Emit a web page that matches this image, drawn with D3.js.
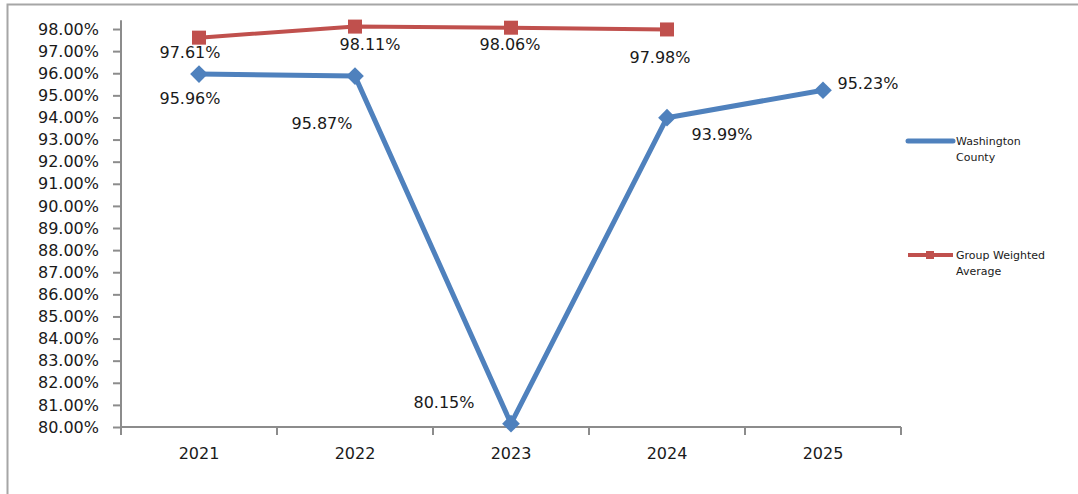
<!DOCTYPE html>
<html>
<head>
<meta charset="utf-8">
<script src="https://cdn.jsdelivr.net/npm/d3@7"></script>
<style>
  html, body { margin: 0; padding: 0; background: #fff; }
  svg { display: block; }
  text { font-family: "DejaVu Sans", sans-serif; fill: #1a1a1a; }
</style>
</head>
<body>
<svg id="chart" width="1078" height="494"></svg>
<script>
// Years on the category axis
const years = ["2021", "2022", "2023", "2024", "2025"];
// Percent values per series
const washingtonCounty = [95.96, 95.87, 80.15, 93.99, 95.23];
const groupWeightedAverage = [97.61, 98.11, 98.06, 97.98, null];
// Value axis tick labels
const yTicks = [80, 81, 82, 83, 84, 85, 86, 87, 88, 89, 90, 91, 92, 93, 94, 95, 96, 97, 98];
const seriesNames = ["Washington County", "Group Weighted Average"];

// Label offsets (px) from each point
const blueLabelOffsets = [[-9, 24], [-33, 47], [-67, -21], [55, 17], [45, -7]];
const redLabelOffsets = [[-9, 15], [15, 18], [-1, 17], [-7, 28], [0, 0]];

const svg = d3.select("#chart");
const W = 1078, H = 494;

// outer frame (top and left edges visible)
svg.append("rect")
  .attr("x", 7.5).attr("y", 4.5)
  .attr("width", W + 20).attr("height", H + 20)
  .attr("fill", "none").attr("stroke", "#a6a6a6").attr("stroke-width", 2);

const plot = { left: 121, right: 901, bottom: 427 };
const pxPerPoint = 22.11;

const x = d3.scaleBand().domain(years).range([plot.left, plot.right]);
const y = d3.scaleLinear().domain([80, 98.4])
  .range([plot.bottom, plot.bottom - 18.4 * pxPerPoint]);

const axisColor = "#8c8c8c";

// Y axis
const yAxis = svg.append("g")
  .attr("transform", `translate(${plot.left},0)`)
  .call(d3.axisLeft(y).tickValues(yTicks).tickSize(8).tickPadding(14)
    .tickFormat(d => d3.format(".2f")(d) + "%"));
yAxis.select(".domain").attr("stroke", axisColor).attr("stroke-width", 2)
  .attr("d", `M0,${y(98.4)}V${y(80)}`);
yAxis.selectAll(".tick line").attr("stroke", axisColor).attr("stroke-width", 2);
yAxis.selectAll(".tick text").attr("font-size", 16).attr("fill", "#1a1a1a")
  .attr("font-family", "DejaVu Sans, sans-serif");

// X axis
const xAxis = svg.append("g")
  .attr("transform", `translate(0,${plot.bottom})`)
  .call(d3.axisBottom(x).tickSize(0).tickPadding(21));
xAxis.select(".domain").attr("stroke", axisColor).attr("stroke-width", 2)
  .attr("d", `M${plot.left},0H${plot.right}`);
xAxis.selectAll(".tick text").attr("font-size", 16).attr("fill", "#1a1a1a")
  .attr("font-family", "DejaVu Sans, sans-serif");
// category boundary tick marks
const bounds = years.map(d => x(d)).concat([plot.right]);
svg.append("g").selectAll("line").data(bounds).join("line")
  .attr("x1", d => d).attr("x2", d => d)
  .attr("y1", plot.bottom).attr("y2", plot.bottom + 8)
  .attr("stroke", axisColor).attr("stroke-width", 2);

const cx = d => x(d) + x.bandwidth() / 2;
const blue = "#4f81bd", red = "#c0504d";

const line = d3.line()
  .defined(d => d.v != null)
  .x(d => cx(d.year)).y(d => y(d.v));

const blueData = years.map((yr, i) => ({ year: yr, v: washingtonCounty[i], off: blueLabelOffsets[i] }));
const redData = years.map((yr, i) => ({ year: yr, v: groupWeightedAverage[i], off: redLabelOffsets[i] }));

// Group Weighted Average series
svg.append("path").datum(redData).attr("d", line)
  .attr("fill", "none").attr("stroke", red).attr("stroke-width", 4).attr("stroke-linejoin", "round");
svg.append("g").selectAll("rect").data(redData.filter(d => d.v != null)).join("rect")
  .attr("x", d => cx(d.year) - 7).attr("y", d => y(d.v) - 7)
  .attr("width", 14).attr("height", 14).attr("fill", red);

// Washington County series
svg.append("path").datum(blueData).attr("d", line)
  .attr("fill", "none").attr("stroke", blue).attr("stroke-width", 5).attr("stroke-linejoin", "round");
const diamond = d3.symbol().type(d3.symbolDiamond2).size(200);
svg.append("g").selectAll("path").data(blueData).join("path")
  .attr("d", diamond)
  .attr("transform", d => `translate(${cx(d.year)},${y(d.v)})`)
  .attr("fill", blue);

// data labels
const fmt = v => d3.format(".2f")(v) + "%";
svg.append("g").selectAll("text").data(redData.filter(d => d.v != null).concat(blueData)).join("text")
  .attr("x", d => cx(d.year) + d.off[0])
  .attr("y", d => y(d.v) + d.off[1])
  .attr("text-anchor", "middle").attr("dominant-baseline", "central")
  .attr("font-size", 16)
  .text(d => fmt(d.v));

// legend
const legend = svg.append("g");
const legendItems = [
  { name: seriesNames[0], color: blue, marker: "none", y: 141, lines: ["Washington", "County"] },
  { name: seriesNames[1], color: red, marker: "square", y: 255, lines: ["Group Weighted", "Average"] }
];
legendItems.forEach(it => {
  legend.append("line")
    .attr("x1", 908).attr("x2", 953).attr("y1", it.y).attr("y2", it.y)
    .attr("stroke", it.color).attr("stroke-width", it.marker === "none" ? 5 : 4)
    .attr("stroke-linecap", it.marker === "none" ? "round" : "butt");
  if (it.marker === "square") {
    legend.append("rect").attr("x", 926).attr("y", it.y - 4).attr("width", 8).attr("height", 8)
      .attr("fill", it.color);
  }
  const t = legend.append("text").attr("x", 956).attr("y", it.y).attr("font-size", 11)
    .attr("dominant-baseline", "central");
  it.lines.forEach((ln, i) => {
    t.append("tspan").attr("x", 956).attr("dy", i === 0 ? 0 : 16).text(ln);
  });
});
</script>
</body>
</html>
